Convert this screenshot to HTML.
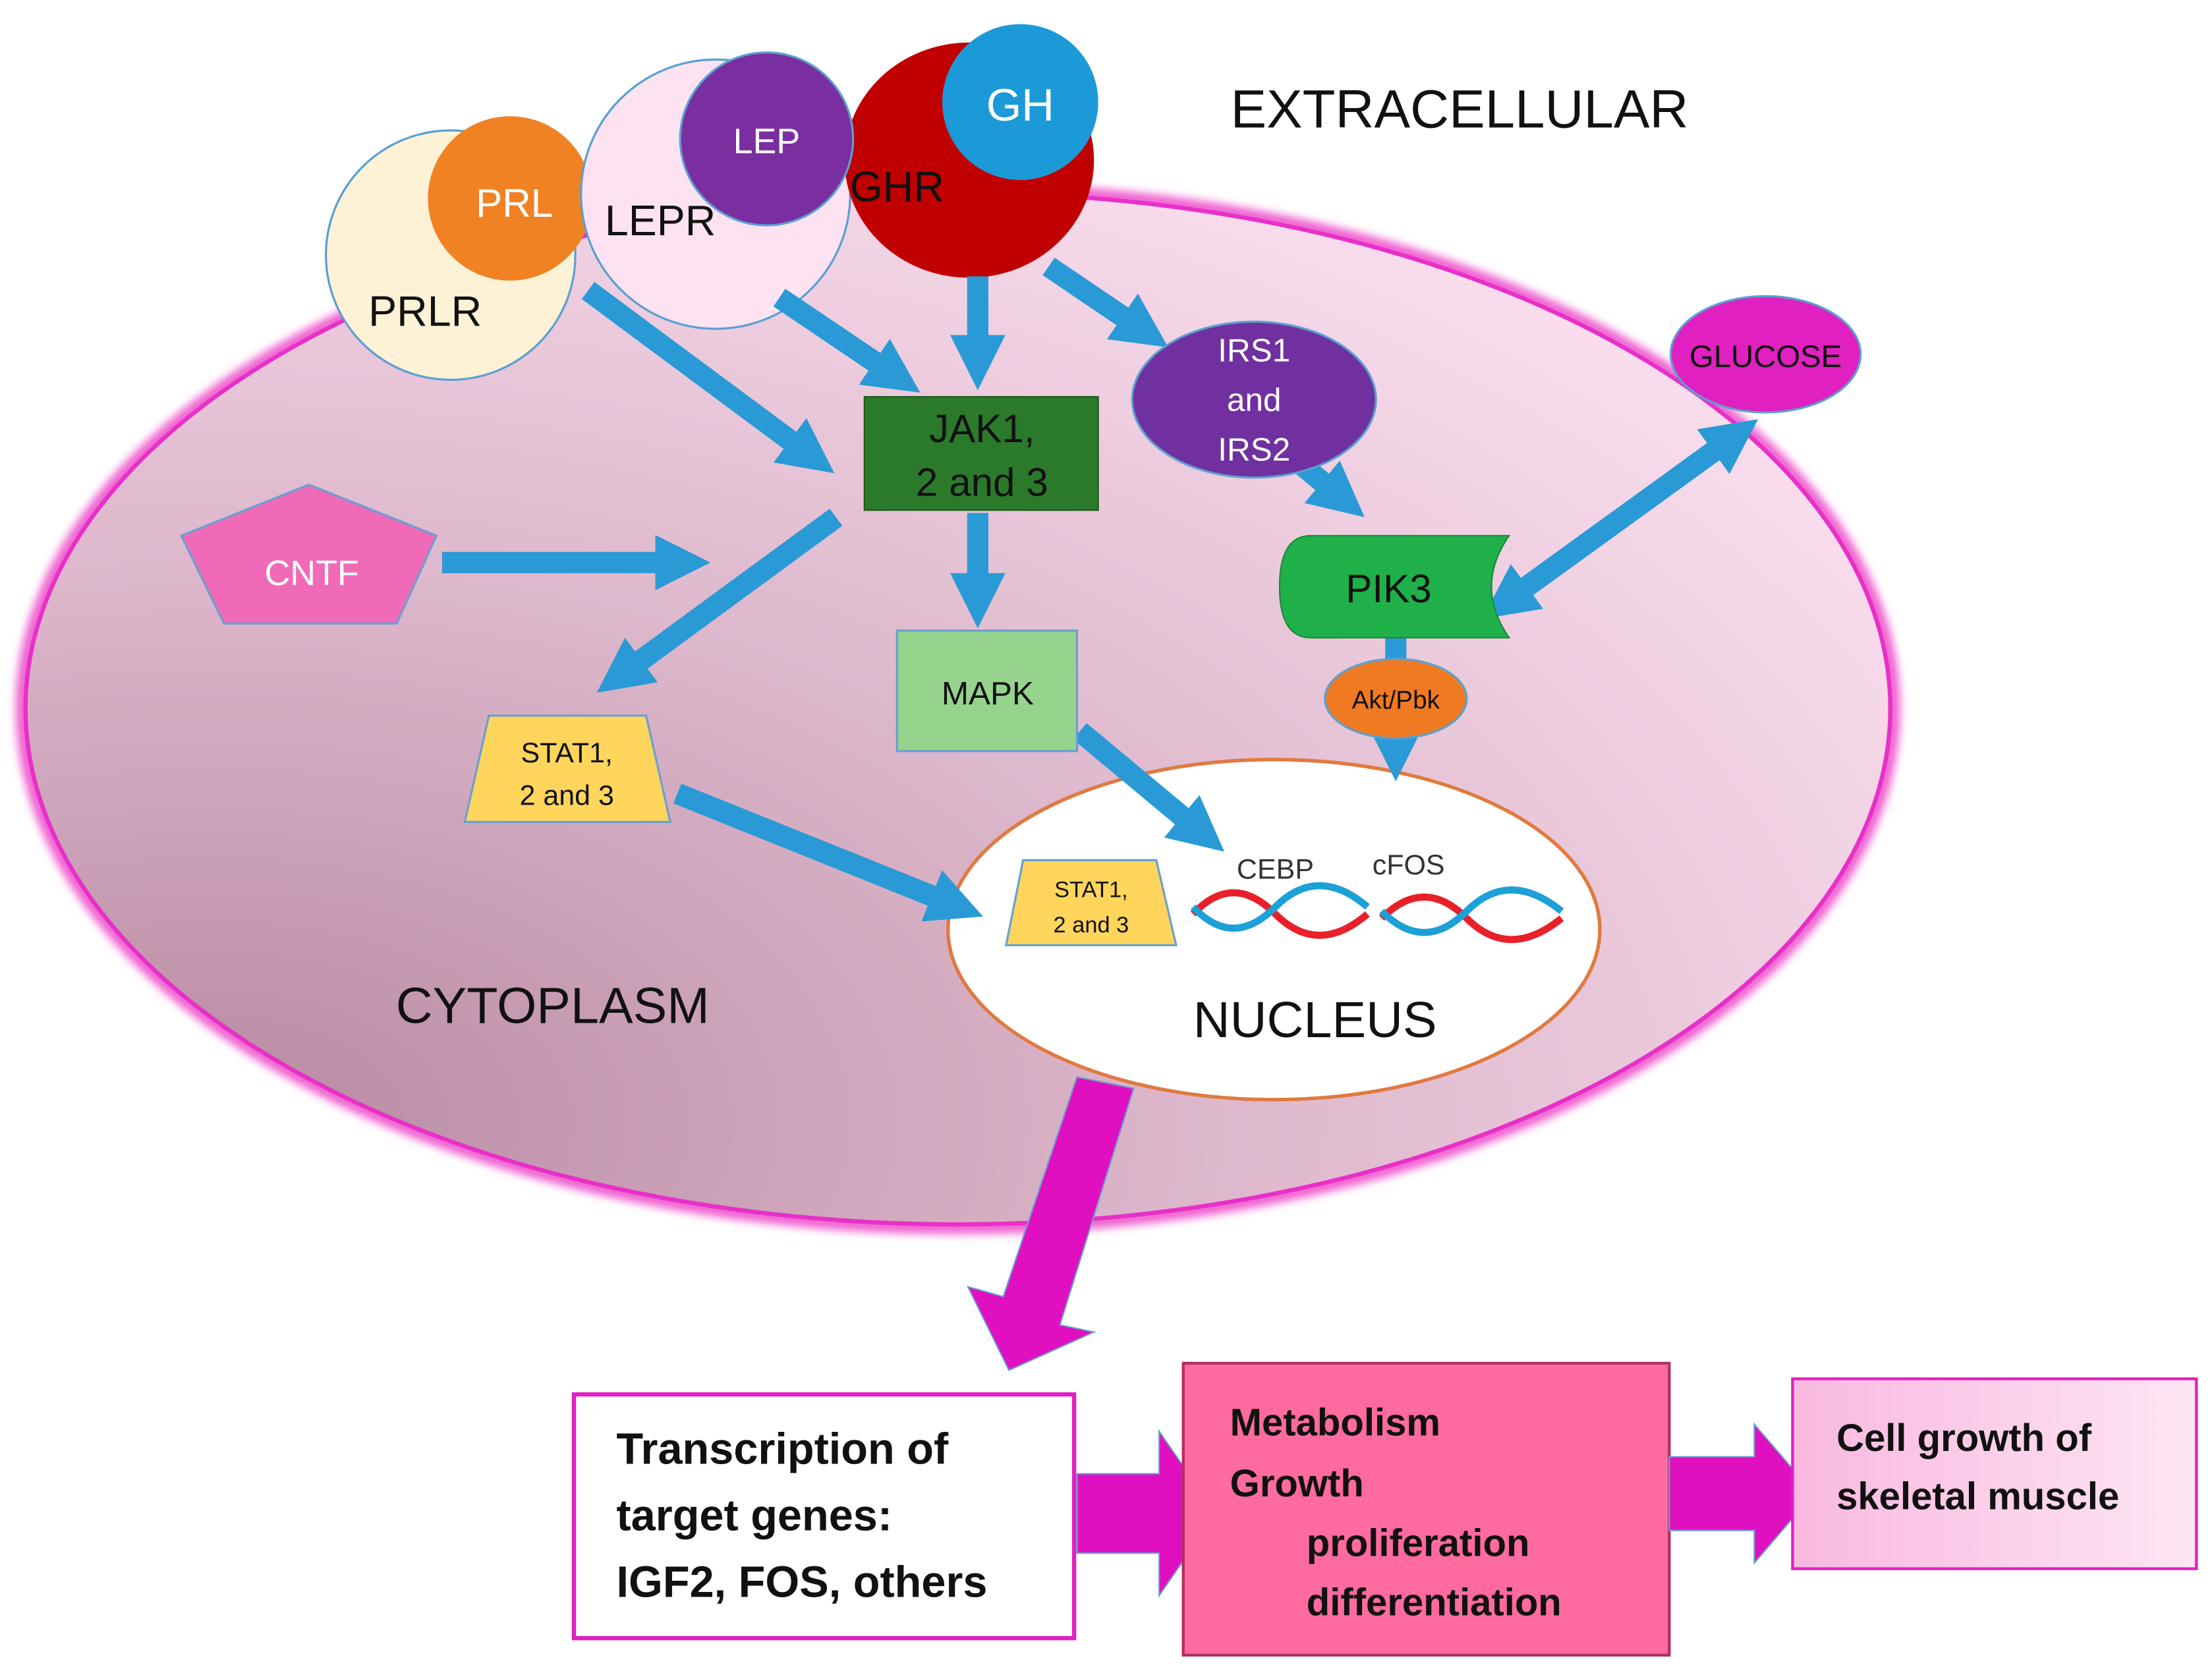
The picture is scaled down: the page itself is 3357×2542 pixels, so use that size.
<!DOCTYPE html>
<html><head><meta charset="utf-8"><style>
html,body{margin:0;padding:0;background:#fff;}
svg{display:block;}
text{font-family:"Liberation Sans","DejaVu Sans",sans-serif;}
</style></head><body>
<svg width="3357" height="2542" viewBox="0 0 1561 1182" xmlns="http://www.w3.org/2000/svg">
<defs>
<radialGradient id="cell" cx="0.1" cy="0.9" r="1.1">
<stop offset="0" stop-color="#b88aa2"/><stop offset="0.5" stop-color="#deb8cc"/><stop offset="1" stop-color="#fbe0f0"/>
</radialGradient>
<linearGradient id="cg" x1="0" y1="0" x2="1" y2="0"><stop offset="0" stop-color="#f9b8e0"/><stop offset="1" stop-color="#fde6f4"/></linearGradient>
<filter id="glow"><feGaussianBlur stdDeviation="3"/></filter>
<marker id="ah" viewBox="0 0 10 10" markerWidth="2.6" markerHeight="2.6" refX="4" refY="5" orient="auto" markerUnits="strokeWidth"><path d="M0,0 L10,5 L0,10 z" fill="#2a9ad6"/></marker>
<marker id="ahs" viewBox="0 0 10 10" markerWidth="2.6" markerHeight="2.6" refX="6" refY="5" orient="auto-start-reverse" markerUnits="strokeWidth"><path d="M0,0 L10,5 L0,10 z" fill="#2a9ad6"/></marker>
</defs>
<ellipse cx="676" cy="500" rx="660" ry="366" fill="none" stroke="#f060d0" stroke-width="10" filter="url(#glow)"/>
<ellipse cx="676" cy="500" rx="658" ry="364" fill="url(#cell)" stroke="#e830c8" stroke-width="3"/>
<text x="1030" y="90" font-size="38" text-anchor="middle" fill="#111">EXTRACELLULAR</text>
<text x="390" y="722" font-size="36" text-anchor="middle" fill="#111">CYTOPLASM</text>
<ellipse cx="899" cy="656" rx="230" ry="120" fill="#fff" stroke="#e07a40" stroke-width="2.5"/>
<text x="928" y="732" font-size="36" text-anchor="middle" fill="#111">NUCLEUS</text>
<circle cx="318" cy="180" r="88" fill="#fdf2d6" stroke="#5aa0d0" stroke-width="1.5"/>
<circle cx="360" cy="140" r="58" fill="#f08224"/>
<text x="363" y="153" font-size="28" text-anchor="middle" fill="#fff">PRL</text>
<text x="300" y="230" font-size="30" text-anchor="middle" fill="#111">PRLR</text>
<circle cx="505" cy="137" r="95" fill="#fde2f2" stroke="#5aa0d0" stroke-width="1.5"/>
<ellipse cx="684" cy="113" rx="88" ry="83" fill="#c00000"/>
<circle cx="541" cy="98" r="61" fill="#7a2ea0" stroke="#5aa0d0" stroke-width="1.5"/>
<text x="541" y="108" font-size="25" text-anchor="middle" fill="#fff">LEP</text>
<text x="466" y="166" font-size="30" text-anchor="middle" fill="#111">LEPR</text>
<text x="633" y="142" font-size="30" text-anchor="middle" fill="#111">GHR</text>
<circle cx="720" cy="72" r="55" fill="#1c9ad8"/>
<text x="720" y="85" font-size="32" text-anchor="middle" fill="#fff">GH</text>
<g stroke="#2a9ad6" stroke-width="15" fill="none" marker-end="url(#ah)">
<line x1="415" y1="205" x2="570" y2="320"/>
<line x1="550" y1="210" x2="630" y2="264"/>
<line x1="690" y1="195" x2="690" y2="252"/>
<line x1="740" y1="188" x2="805" y2="232"/>
<line x1="915" y1="325" x2="945" y2="350"/>
<line x1="312" y1="397" x2="478" y2="397"/>
<line x1="590" y1="365" x2="440" y2="475"/>
<line x1="690" y1="362" x2="690" y2="420"/>
<line x1="762" y1="516" x2="846" y2="586"/>
<line x1="478" y1="560" x2="672" y2="638"/>
<line x1="985" y1="448" x2="985" y2="528"/>
<line x1="1228" y1="305" x2="1065" y2="423" marker-start="url(#ahs)"/>
</g>
<rect x="610" y="280" width="165" height="80" fill="#2b7a2b" stroke="#1a5a1a"/>
<text x="693" y="312" font-size="28" text-anchor="middle" fill="#111">JAK1,</text>
<text x="693" y="350" font-size="28" text-anchor="middle" fill="#111">2 and 3</text>
<polygon points="218,342 308,378 280,440 158,440 128,378" fill="#f06ab8" stroke="#6aa0d0" stroke-width="1.5"/>
<text x="220" y="413" font-size="25" text-anchor="middle" fill="#fff">CNTF</text>
<rect x="633" y="445" width="127" height="85" fill="#96d48e" stroke="#6aa0d0" stroke-width="1.5"/>
<text x="697" y="497" font-size="23" text-anchor="middle" fill="#111">MAPK</text>
<polygon points="345,505 456,505 473,580 328,580" fill="#ffd55c" stroke="#6aa0d0" stroke-width="1.5"/>
<text x="400" y="538" font-size="20" text-anchor="middle" fill="#111">STAT1,</text>
<text x="400" y="568" font-size="20" text-anchor="middle" fill="#111">2 and 3</text>
<ellipse cx="885" cy="282" rx="86" ry="55" fill="#7030a0" stroke="#5aa0d0" stroke-width="1.5"/>
<text x="885" y="255" font-size="23" text-anchor="middle" fill="#fff">IRS1</text>
<text x="885" y="290" font-size="23" text-anchor="middle" fill="#fff">and</text>
<text x="885" y="325" font-size="23" text-anchor="middle" fill="#fff">IRS2</text>
<ellipse cx="1246" cy="250" rx="67" ry="41" fill="#e020c0" stroke="#5aa0d0" stroke-width="1.5"/>
<text x="1246" y="259" font-size="22" text-anchor="middle" fill="#111">GLUCOSE</text>
<path d="M925,378 L1065,378 Q1040,414 1065,450 L925,450 Q903,450 903,414 Q903,378 925,378 z" fill="#1fb04a" stroke="#1a8a3a"/>
<text x="980" y="425" font-size="28" text-anchor="middle" fill="#111">PIK3</text>
<ellipse cx="985" cy="493" rx="50" ry="28" fill="#f07a22" stroke="#5aa0d0" stroke-width="1.5"/>
<text x="985" y="500" font-size="18" text-anchor="middle" fill="#111">Akt/Pbk</text>
<polygon points="722,607 816,607 830,667 710,667" fill="#ffd55c" stroke="#6aa0d0" stroke-width="1.5"/>
<text x="770" y="633" font-size="16" text-anchor="middle" fill="#111">STAT1,</text>
<text x="770" y="658" font-size="16" text-anchor="middle" fill="#111">2 and 3</text>
<text x="900" y="620" font-size="20" text-anchor="middle" fill="#333">CEBP</text>
<text x="994" y="617" font-size="20" text-anchor="middle" fill="#333">cFOS</text>
<g fill="none" stroke-width="5">
<path d="M842,645 Q870,615 900,645 T965,645" stroke="#e8202a"/>
<path d="M842,640 Q870,670 900,640 T965,640" stroke="#1ca0d8"/>
<path d="M975,648 Q1005,618 1035,648 T1102,648" stroke="#e8202a"/>
<path d="M975,643 Q1005,673 1035,643 T1102,643" stroke="#1ca0d8"/>
</g>
<polygon points="760,760 800,768 748,935 772,940 712,967 683,908 708,915" fill="#e010c0" stroke="#6aa0d0" stroke-width="1"/>
<rect x="405" y="984" width="353" height="172" fill="#fff" stroke="#e020c0" stroke-width="3"/>
<text x="435" y="1033" font-size="31" font-weight="bold" fill="#111">Transcription  of</text>
<text x="435" y="1080" font-size="31" font-weight="bold" fill="#111">target genes:</text>
<text x="435" y="1127" font-size="31" font-weight="bold" fill="#111">IGF2, FOS, others</text>
<polygon points="760,1040 818,1040 818,1010 858,1068 818,1126 818,1096 760,1096" fill="#e010c0" stroke="#6aa0d0" stroke-width="1"/>
<rect x="835" y="962" width="343" height="206" fill="#ff6aa0" stroke="#b03060" stroke-width="2"/>
<text x="868" y="1013" font-size="27" font-weight="bold" fill="#111">Metabolism</text>
<text x="868" y="1056" font-size="27" font-weight="bold" fill="#111">Growth</text>
<text x="922" y="1098" font-size="27" font-weight="bold" fill="#111">proliferation</text>
<text x="922" y="1140" font-size="27" font-weight="bold" fill="#111">differentiation</text>
<polygon points="1178,1028 1238,1028 1238,1005 1280,1054 1238,1103 1238,1080 1178,1080" fill="#e010c0" stroke="#6aa0d0" stroke-width="1"/>
<rect x="1265" y="973" width="285" height="134" fill="url(#cg)" stroke="#e020c0" stroke-width="2"/>
<text x="1296" y="1024" font-size="27" font-weight="bold" fill="#111">Cell growth of</text>
<text x="1296" y="1065" font-size="27" font-weight="bold" fill="#111">skeletal muscle</text>
</svg>
</body></html>
